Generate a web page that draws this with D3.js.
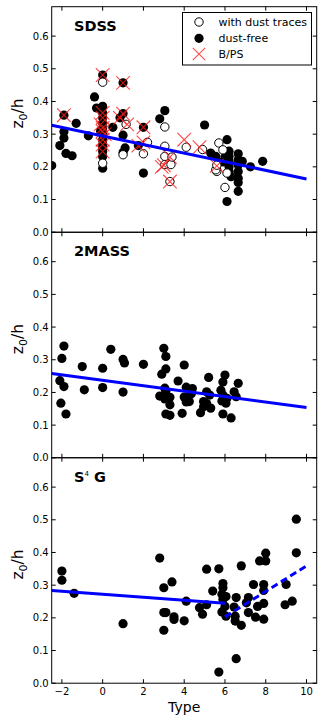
<!DOCTYPE html>
<html>
<head>
<meta charset="utf-8">
<script src="https://cdnjs.cloudflare.com/ajax/libs/d3/7.8.5/d3.min.js"></script>
<style>
  body { margin: 0; background: #fff; }
  svg { display: block; font-family: "DejaVu Sans", sans-serif; }
</style>
</head>
<body>
<svg id="chart" width="327" height="727"></svg>
<script>
// tick values
var typeTicks = [-2, 0, 2, 4, 6, 8, 10];
var zTicks = [0, 0.1, 0.2, 0.3, 0.4, 0.5, 0.6];

// SDSS panel
var sdssFree = [[-2.5,0.204],[-1.9,0.358],[-1.9,0.307],[-1.9,0.288],[-2.1,0.265],[-1.8,0.241],[-1.5,0.234],
  [-1.3,0.333],[-0.7,0.295],[-0.4,0.414],[-0.3,0.38],[0,0.385],[0,0.481],[0,0.365],[0,0.35],[0,0.334],
  [0,0.319],[0,0.309],[0,0.3],[0,0.283],[0,0.268],[0,0.258],[0,0.247],[0,0.232],[0,0.196],[-0.1,0.31],
  [0.5,0.321],[1.0,0.457],[0.85,0.35],[1.0,0.363],[1.0,0.297],[1.1,0.258],[1.0,0.244],[2.0,0.321],
  [1.75,0.265],[2.0,0.181],[2.8,0.347],[3.05,0.372],[5.0,0.328],[5.3,0.242],[5.55,0.232],[5.6,0.19],
  [6.1,0.283],[6.2,0.248],[6.2,0.232],[6.2,0.217],[6.2,0.2],[6.2,0.186],[6.1,0.094],[6.3,0.17],
  [6.65,0.24],[6.65,0.222],[6.65,0.206],[6.65,0.186],[6.65,0.165],[6.65,0.152],[6.65,0.125],
  [6.85,0.217],[7.25,0.2],[7.85,0.217],[5.9,0.215],[6.0,0.23]];
var sdssDust = [[0,0.459],[0,0.211],[1.15,0.33],[1.0,0.237],[2.0,0.24],[2.2,0.275],[3.05,0.322],
  [3.05,0.263],[3.05,0.232],[3.05,0.207],[3.35,0.207],[3.3,0.155],[4.1,0.26],[4.9,0.253],[5.6,0.186],
  [5.7,0.273],[5.9,0.252],[6.0,0.137],[5.55,0.191],[6.1,0.181],[5.6,0.205],[3.4,0.23]];
var sdssBps = [[-1.9,0.358],[0,0.481],[0,0.365],[0,0.35],[0,0.319],[0,0.309],[0,0.283],[0,0.268],
  [0,0.247],[-0.1,0.33],[0.1,0.3],[1.0,0.457],[0.85,0.35],[1.0,0.363],[1.2,0.33],[2.0,0.321],
  [1.75,0.265],[2.0,0.275],[3.0,0.205],[2.9,0.2],[3.3,0.23],[3.3,0.155],[4.0,0.283],[4.75,0.26],[5.6,0.203]];
var sdssFit = [[-2.5,0.327],[10,0.163]];

// 2MASS panel
var massPts = [[-2.1,0.236],[-2.05,0.167],[-2.0,0.304],[-1.9,0.342],[-1.9,0.218],[-1.8,0.134],[-1.0,0.279],
  [-0.9,0.208],[0,0.274],[0,0.215],[0.4,0.332],[1.0,0.301],[1.07,0.29],[1.0,0.201],[2.0,0.286],[3.0,0.335],
  [2.9,0.256],[3.1,0.31],[3.1,0.272],[2.8,0.189],[3.05,0.213],[3.1,0.204],[3.05,0.18],[3.3,0.185],
  [3.3,0.162],[3.1,0.134],[3.3,0.13],[3.7,0.235],[4.0,0.284],[4.0,0.186],[4.1,0.216],[4.1,0.171],
  [4.35,0.196],[4.4,0.212],[4.25,0.172],[3.9,0.136],[4.8,0.138],[4.95,0.172],[4.95,0.156],[5.1,0.202],
  [5.2,0.246],[5.25,0.192],[5.3,0.152],[5.1,0.166],[5.8,0.207],[5.9,0.232],[6.0,0.253],[5.85,0.174],
  [5.9,0.192],[5.9,0.134],[6.05,0.167],[6.1,0.182],[6.3,0.122],[6.45,0.202],[6.55,0.187],[6.65,0.228]];
var massFit = [[-2.5,0.258],[10,0.154]];

// S4G panel
var s4gPts = [[-2.0,0.343],[-2.0,0.315],[-1.4,0.275],[1.0,0.182],[2.8,0.383],[3.0,0.292],[3.0,0.216],
  [3.1,0.216],[3.0,0.162],[3.4,0.31],[3.5,0.203],[3.5,0.195],[4.0,0.191],[4.1,0.251],[4.75,0.231],
  [4.9,0.211],[5.1,0.349],[5.1,0.24],[5.4,0.282],[5.7,0.35],[5.7,0.034],[5.9,0.305],[5.9,0.292],
  [5.85,0.272],[5.9,0.257],[6.05,0.265],[5.85,0.218],[6.0,0.235],[6.05,0.205],[6.45,0.233],[6.5,0.205],
  [6.5,0.19],[6.55,0.262],[6.55,0.075],[6.8,0.177],[6.8,0.359],[7.05,0.246],[7.15,0.262],[7.15,0.216],
  [7.4,0.302],[7.5,0.202],[7.6,0.235],[7.7,0.374],[8.0,0.398],[8.0,0.374],[7.9,0.302],[7.9,0.284],
  [7.9,0.244],[7.9,0.196],[9.0,0.302],[8.95,0.24],[9.3,0.251],[9.5,0.502],[9.5,0.399]];
var s4gFit = [[-2.5,0.284],[6,0.245]];
var s4gFitLate = [[6,0.203],[10,0.359]];

var svg = d3.select("#chart");
var left = 51.7, right = 316.7, panelH = 225.5;
var tops = [6.7, 232.3, 457.7];

var x = d3.scaleLinear().domain([-2.5, 10.5]).range([left, right]);

var panels = [
  { name: "SDSS", free: sdssFree, dust: sdssDust, bps: sdssBps, fits: [{ d: sdssFit }] },
  { name: "2MASS", free: massPts, dust: [], bps: [], fits: [{ d: massFit }] },
  { name: "S4G", free: s4gPts, dust: [], bps: [], fits: [{ d: s4gFit }, { d: s4gFitLate, dash: true }] }
];

function xMark(g, cx, cy, r) {
  g.append("path")
    .attr("d", `M${cx - r},${cy - r}L${cx + r},${cy + r}M${cx - r},${cy + r}L${cx + r},${cy - r}`)
    .attr("stroke", "#ff1a1a").attr("stroke-width", 1.1).attr("fill", "none").attr("opacity", 0.8);
}

panels.forEach(function (p, i) {
  var top = tops[i], bottom = top + panelH;
  var y = d3.scaleLinear().domain([0, 0.69]).range([bottom, top]);
  var g = svg.append("g");

  g.append("clipPath").attr("id", "clip" + i)
    .append("rect").attr("x", left).attr("y", top).attr("width", right - left).attr("height", panelH);
  var plot = g.append("g").attr("clip-path", `url(#clip${i})`);

  plot.selectAll("circle.free").data(p.free).enter().append("circle")
    .attr("class", "free")
    .attr("cx", d => x(d[0])).attr("cy", d => y(d[1])).attr("r", 4.6)
    .attr("fill", "#000");
  plot.selectAll("circle.dust").data(p.dust).enter().append("circle")
    .attr("class", "dust")
    .attr("cx", d => x(d[0])).attr("cy", d => y(d[1])).attr("r", 4.2)
    .attr("fill", "#fff").attr("stroke", "#000").attr("stroke-width", 1);
  p.bps.forEach(d => xMark(plot, x(d[0]), y(d[1]), 6.8));

  var line = d3.line().x(d => x(d[0])).y(d => y(d[1]));
  p.fits.forEach(function (f) {
    plot.append("path").attr("d", line(f.d))
      .attr("fill", "none").attr("stroke", "#0000ff").attr("stroke-width", 3)
      .attr("stroke-dasharray", f.dash ? "7,4" : null);
  });

  // frame + inward ticks on all sides
  g.append("rect").attr("x", left).attr("y", top).attr("width", right - left).attr("height", panelH)
    .attr("fill", "none").attr("stroke", "#000").attr("stroke-width", 1);
  typeTicks.forEach(function (t) {
    g.append("line").attr("x1", x(t)).attr("x2", x(t)).attr("y1", bottom).attr("y2", bottom - 4).attr("stroke", "#000");
    g.append("line").attr("x1", x(t)).attr("x2", x(t)).attr("y1", top).attr("y2", top + 4).attr("stroke", "#000");
  });
  zTicks.forEach(function (t) {
    g.append("line").attr("x1", left).attr("x2", left + 4).attr("y1", y(t)).attr("y2", y(t)).attr("stroke", "#000");
    g.append("line").attr("x1", right).attr("x2", right - 4).attr("y1", y(t)).attr("y2", y(t)).attr("stroke", "#000");
  });

  g.selectAll("text.ytick").data(zTicks).enter().append("text")
    .attr("class", "ytick")
    .attr("x", left - 3).attr("y", d => y(d) + 3.6)
    .attr("text-anchor", "end").attr("font-size", 10)
    .text(d3.format(".1f"));

  // y label z0/h
  var yl = g.append("text")
    .attr("transform", `translate(23,${(top + bottom) / 2 - 6}) rotate(-90)`)
    .attr("text-anchor", "middle").attr("font-size", 15.5);
  yl.append("tspan").text("z");
  yl.append("tspan").attr("font-size", 11).attr("dy", 3.5).text("0");
  yl.append("tspan").attr("dy", -3.5).text("/h");

  // panel title
  var title = g.append("text").attr("x", 74).attr("y", top + 24)
    .attr("font-size", 14.5).attr("font-weight", "bold");
  if (p.name === "S4G") {
    title.append("tspan").text("S");
    title.append("tspan").attr("font-size", 7).attr("font-weight", "normal").attr("dy", -6).text("4");
    title.append("tspan").attr("dy", 6).text(" G");
  } else {
    title.text(p.name);
  }

  if (i === 2) {
    g.selectAll("text.xtick").data(typeTicks).enter().append("text")
      .attr("class", "xtick")
      .attr("x", d => x(d)).attr("y", bottom + 12)
      .attr("text-anchor", "middle").attr("font-size", 10)
      .text(d3.format("d"));
    g.append("text").attr("x", (left + right) / 2).attr("y", 712)
      .attr("text-anchor", "middle").attr("font-size", 14).text("Type");
  }
});

// legend in the SDSS panel
var leg = svg.append("g");
leg.append("rect").attr("x", 182.5).attr("y", 12.5).attr("width", 129).attr("height", 52.5)
  .attr("fill", "#fff").attr("stroke", "#000").attr("stroke-width", 1);
leg.append("circle").attr("cx", 199).attr("cy", 22).attr("r", 4.2)
  .attr("fill", "#fff").attr("stroke", "#000");
leg.append("circle").attr("cx", 199).attr("cy", 38.3).attr("r", 4.6).attr("fill", "#000");
xMark(leg, 199, 54, 6.2);
var legLabels = ["with dust traces", "dust-free", "B/PS"];
leg.selectAll("text").data(legLabels).enter().append("text")
  .attr("x", 218.5).attr("y", (d, i) => [22, 38.3, 54][i] + 4)
  .attr("font-size", 11).text(d => d);
</script>
</body>
</html>
